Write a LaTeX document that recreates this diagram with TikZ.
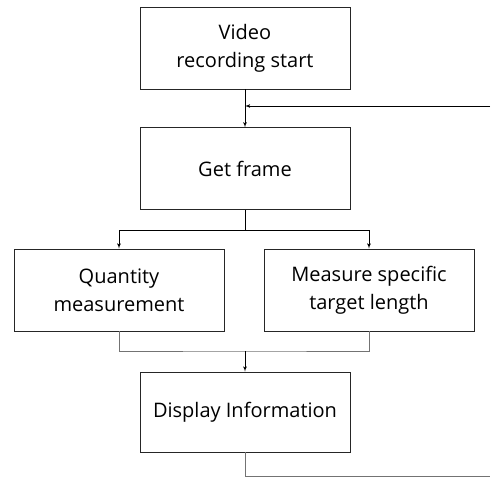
\documentclass[tikz,border=0pt]{standalone}
\usepackage{fontspec}
\setmainfont{Open Sans}
\usepackage{tikz}
\usetikzlibrary{arrows}
\usetikzlibrary{positioning}

\begin{document}
\begin{tikzpicture}
	[x=1pt,y=1pt,
	process/.style={rectangle,draw=black!85,line width=0.8pt,minimum width=210pt,minimum height=82pt,align=center,
		font=\fontsize{20}{28}\selectfont},
	on/.style={->,>=latex',line width=0.8pt},
	link/.style={line width=0.8pt,draw=black!55},]

\useasboundingbox (0,0) rectangle (492,477);

% Steps %
\node[process] (start) at (245,429) {Video\\recording start};
\node[process] (frame) [below=38pt of start] {Get frame};
\node[process] (quant) at (119,187) {Quantity\\measurement};
\node[process] (target) at (369,187) {Measure specific\\target length};
\node[process,minimum height=80pt] (display) at (245,65) {Display Information};

% Loop ends %
\coordinate (loopin) at (490,371);
\coordinate (loopout) at (490,1);

% Arrows %
\draw[on] (start) -- (frame);
\draw[on] (loopin) -- (loopin -| start);
\draw[line width=0.8pt] (frame.south) -- ++(0,-20) coordinate (split);
\draw[on] (split) -| (quant);
\draw[on] (split) -| (target);
\coordinate (merge) at (245,126);
\draw[link] (quant) |- (merge) -| (target);
\draw[on] (merge) -- (display);
\draw[link] (display) -- (display.south |- loopout) -- (loopout);
\end{tikzpicture}
\end{document}
